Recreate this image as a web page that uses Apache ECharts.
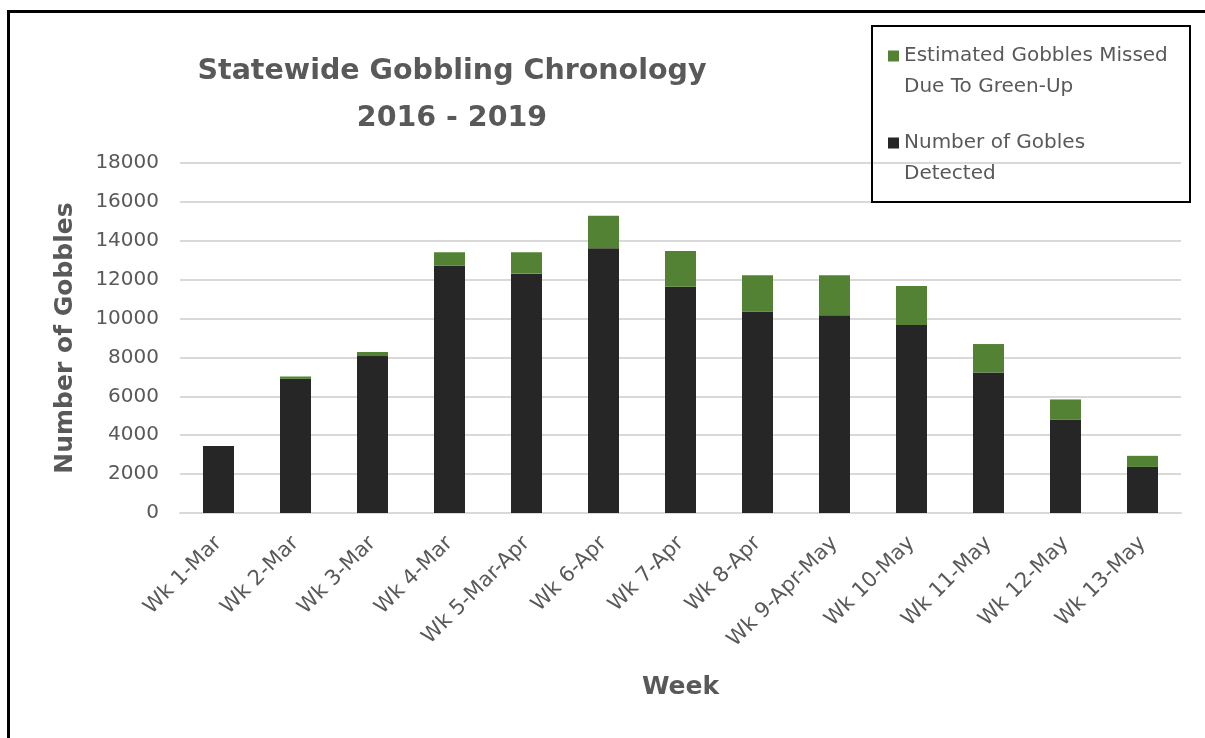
<!DOCTYPE html>
<html>
<head>
<meta charset="utf-8">
<script src="https://cdn.jsdelivr.net/npm/echarts@6/dist/echarts.min.js"></script>
<style>
html,body{margin:0;padding:0;background:#fff;}
#chart{width:1205px;height:738px;}
</style>
</head>
<body>
<div id="chart"></div>
<script>
const categories = ['Wk 1-Mar','Wk 2-Mar','Wk 3-Mar','Wk 4-Mar','Wk 5-Mar-Apr','Wk 6-Apr','Wk 7-Apr','Wk 8-Apr','Wk 9-Apr-May','Wk 10-May','Wk 11-May','Wk 12-May','Wk 13-May'];
const detected = [3440, 6900, 8070, 12730, 12310, 13620, 11630, 10360, 10170, 9670, 7230, 4810, 2370];
const missed = [0, 120, 210, 680, 1100, 1670, 1850, 1870, 2060, 2010, 1460, 1030, 570];
const missedName = 'Estimated Gobbles Missed\nDue To Green-Up';
const detectedName = 'Number of Gobles\nDetected';
const titleText = 'Statewide Gobbling Chronology\n2016 - 2019';

const FONT = 'DejaVu Sans';
const TXT = '#595959';
const LH = 31;

function legendCfg(name, cy) {
  return {
    data: [name], left: 888, top: cy - 1.5 * LH + 1, padding: 0,
    itemWidth: 11, itemHeight: 11, icon: 'rect', selectedMode: false,
    formatter: function (n) { return '\n' + n; },
    textStyle: {fontFamily: FONT, fontSize: 20, color: TXT, lineHeight: LH}
  };
}

const chart = echarts.init(document.getElementById('chart'));
chart.setOption({
  animation: false,
  backgroundColor: '#ffffff',
  textStyle: {fontFamily: FONT},
  title: {
    text: titleText,
    left: 447, top: 43, textAlign: 'center',
    textStyle: {fontFamily: FONT, fontWeight: 'bold', fontSize: 28.5, color: TXT, lineHeight: 47}
  },
  legend: [legendCfg(missedName, 55), legendCfg(detectedName, 142)],
  grid: {left: 180, right: 24, top: 163, bottom: 225, containLabel: false},
  xAxis: {
    type: 'category', data: categories,
    name: 'Week', nameLocation: 'middle', nameGap: 162,
    nameTextStyle: {fontFamily: FONT, fontWeight: 'bold', fontSize: 25, color: TXT},
    axisLine: {show: true, lineStyle: {color: '#d9d9d9', width: 2}},
    axisTick: {show: false},
    axisLabel: {rotate: 45, margin: 27, fontSize: 21, color: TXT, fontFamily: FONT, interval: 0}
  },
  yAxis: {
    type: 'value', min: 0, max: 18000, interval: 2000,
    name: 'Number of Gobbles', nameLocation: 'middle', nameGap: 102, nameRotate: 90,
    nameTextStyle: {fontFamily: FONT, fontWeight: 'bold', fontSize: 25, color: TXT},
    axisLine: {show: false}, axisTick: {show: false},
    axisLabel: {margin: 21, fontSize: 20, color: TXT, fontFamily: FONT, formatter: function (v) { return String(v); }},
    splitLine: {lineStyle: {color: '#d9d9d9', width: 2}}
  },
  series: [
    {
      name: detectedName, type: 'bar', stack: 'total', data: detected,
      barWidth: 31, itemStyle: {color: '#262626'}
    },
    {
      name: missedName, type: 'bar', stack: 'total', data: missed,
      barWidth: 31, itemStyle: {color: '#548235'}
    }
  ],
  graphic: [
    {type: 'rect', shape: {x: 872, y: 26, width: 318, height: 176}, style: {fill: null, stroke: '#000', lineWidth: 2}, z: 100},
    {type: 'polyline', shape: {points: [[8.5, 738], [8.5, 11.5], [1205, 11.5]]}, style: {fill: null, stroke: '#000', lineWidth: 3}, z: 100}
  ]
});
</script>
</body>
</html>
